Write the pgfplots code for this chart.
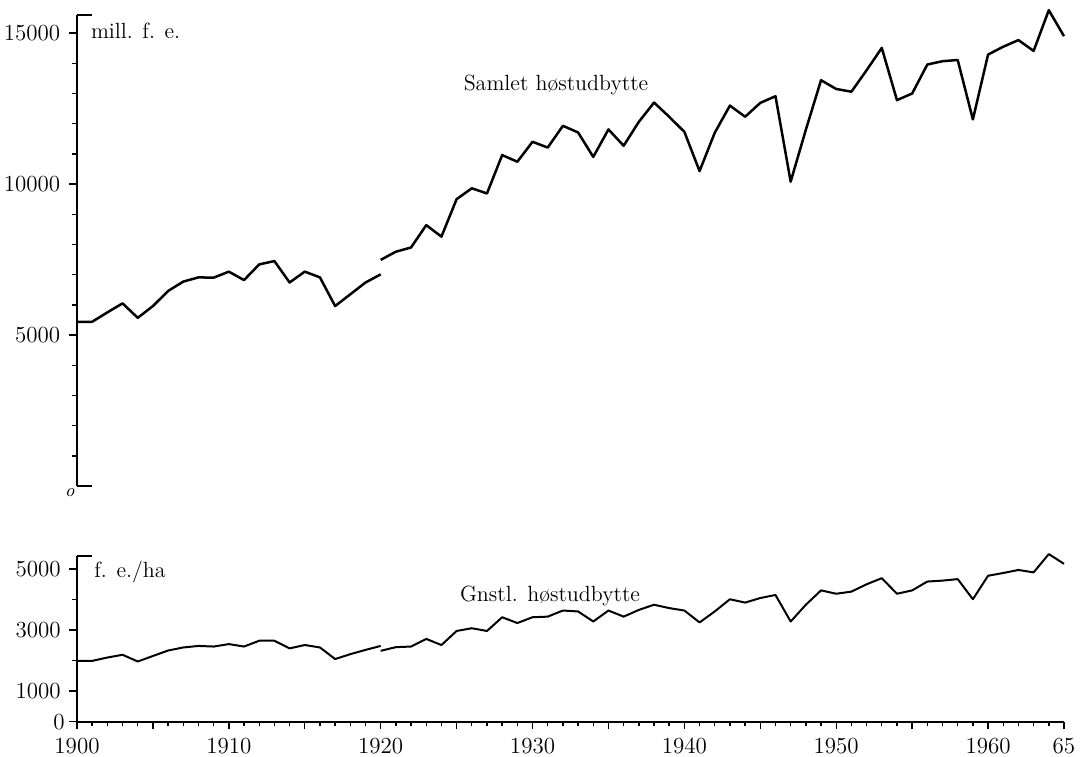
\documentclass[border=0pt]{standalone}
\usepackage{pgfplots}
\pgfplotsset{compat=1.18}
\begin{document}
\fontsize{11}{13}\selectfont
\begin{tikzpicture}
\useasboundingbox (0,0) rectangle (541.5pt,-378pt);
\pgfplotsset{
  common/.style={
    scale only axis, clip=false,
    width=493.5pt,
    xmin=1900, xmax=1965,
    tick align=outside,
    axis line style={line width=0.9pt, black},
    every tick/.style={black, line width=0.7pt},
    major tick length=4pt, minor tick length=2.4pt,
    /pgf/number format/assume math mode=true,
    tick label style={font=\fontsize{11.5}{13}\selectfont},
    scaled y ticks=false,
    yticklabel style={anchor=east, xshift=-0.5pt},
    ymin=0,
  }
}
% ---------------- top panel ----------------
\begin{axis}[common,
  at={(38.5pt,-243pt)}, anchor=south west,
  height=235.5pt, ymax=15600,
  axis x line=none, axis y line*=left,
  ytick={5000,10000,15000},
  yticklabels={5000,10000,15000},
  minor ytick={1000,2000,3000,4000,6000,7000,8000,9000,11000,12000,13000,14000},
]
\addplot[black, line width=1.25pt, line join=round] coordinates {
(1900,5440) (1901,5440) (1902,5750) (1903,6050) (1904,5570) (1905,5960)
(1906,6460) (1907,6770) (1908,6910) (1909,6900) (1910,7100) (1911,6820)
(1912,7340) (1913,7450) (1914,6740) (1915,7100) (1916,6910) (1917,5960)
(1918,6350) (1919,6740) (1920,7010)
};
\addplot[black, line width=1.25pt, line join=round] coordinates {
(1920,7490) (1921,7760) (1922,7900) (1923,8640) (1924,8260) (1925,9500)
(1926,9860) (1927,9690) (1928,10960) (1929,10740) (1930,11400) (1931,11210)
(1932,11930) (1933,11710) (1934,10900) (1935,11810) (1936,11270) (1937,12060)
(1938,12700) (1939,12230) (1940,11730) (1941,10430) (1942,11700) (1943,12600)
(1944,12230) (1945,12690) (1946,12910) (1947,10080) (1948,11800) (1949,13440)
(1950,13150) (1951,13060) (1952,13770) (1953,14510) (1954,12780) (1955,13000)
(1956,13960) (1957,14070) (1958,14110) (1959,12140) (1960,14290) (1961,14550)
(1962,14770) (1963,14410) (1964,15760) (1965,14900)
};
\draw[line width=0.9pt] (axis cs:1900,15600) -- (axis cs:1901,15600);
\draw[line width=0.9pt] (axis cs:1900,0) -- (axis cs:1901,0);
\node[anchor=north east, inner sep=1pt, font=\fontsize{9}{10}\selectfont\itshape] at (axis cs:1900,0) {o};
\end{axis}
% ---------------- bottom panel ----------------
\begin{axis}[common,
  at={(38.5pt,-360.8pt)}, anchor=south west,
  height=83pt, ymax=5440,
  axis x line*=bottom, axis y line*=left,
  ytick={0,1000,3000,5000},
  yticklabels={,1000,3000,5000},
  minor ytick={2000,4000},
  xtick={1900,1905,...,1965},
  xticklabels={1900,,1910,,1920,,1930,,1940,,1950,,1960,65},
  minor x tick num=4,
  major tick length=3.8pt,
  xticklabel style={anchor=north, yshift=-0.5pt},
]
\addplot[black, line width=1pt, line join=round] coordinates {
(1900,1990) (1901,1990) (1902,2100) (1903,2190) (1904,1970) (1905,2150)
(1906,2330) (1907,2430) (1908,2480) (1909,2460) (1910,2540) (1911,2460)
(1912,2650) (1913,2650) (1914,2400) (1915,2510) (1916,2430) (1917,2050)
(1918,2210) (1919,2350) (1920,2480)
};
\addplot[black, line width=1pt, line join=round] coordinates {
(1920,2320) (1921,2440) (1922,2460) (1923,2710) (1924,2510) (1925,2970)
(1926,3060) (1927,2970) (1928,3420) (1929,3230) (1930,3420) (1931,3440)
(1932,3640) (1933,3610) (1934,3280) (1935,3640) (1936,3440) (1937,3660)
(1938,3830) (1939,3720) (1940,3640) (1941,3250) (1942,3610) (1943,4010)
(1944,3900) (1945,4050) (1946,4150) (1947,3280) (1948,3830) (1949,4300)
(1950,4190) (1951,4260) (1952,4500) (1953,4700) (1954,4190) (1955,4300)
(1956,4590) (1957,4620) (1958,4670) (1959,4010) (1960,4780) (1961,4870)
(1962,4970) (1963,4890) (1964,5490) (1965,5170)
};
\draw[line width=0.9pt] (axis cs:1900,5440) -- (axis cs:1901,5440);
\node[anchor=east, inner sep=1pt, xshift=-5pt, font=\fontsize{11.5}{13}\selectfont] at (axis cs:1900,0) {0};
\end{axis}
% ---------------- texts ----------------
\node[anchor=base west, inner sep=0pt] at (45.3pt,-19pt) {mill. f. e.};
\node[anchor=base, inner sep=0pt] at (278pt,-45pt) {Samlet h\o{}studbytte};
\node[anchor=base west, inner sep=0pt] at (47pt,-288.5pt) {f. e./ha};
\node[anchor=base, inner sep=0pt] at (275pt,-300.8pt) {Gnstl. h\o{}studbytte};
\end{tikzpicture}
\end{document}
